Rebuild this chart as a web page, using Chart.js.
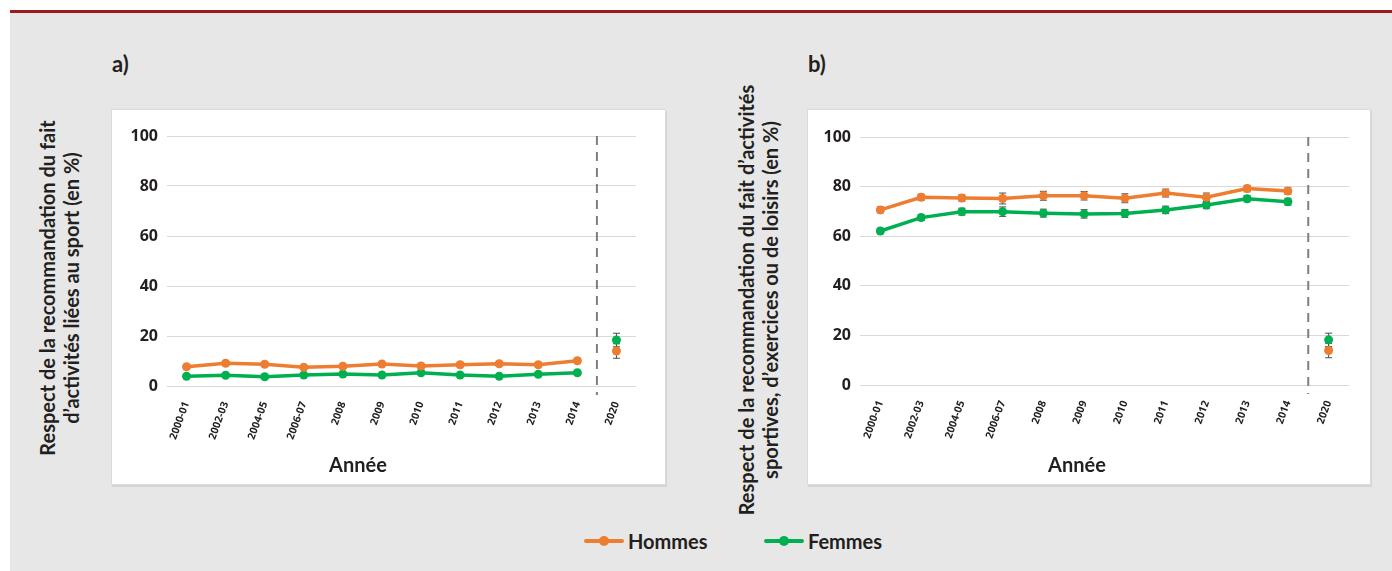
<!DOCTYPE html>
<html><head><meta charset="utf-8">
<script src="https://cdn.jsdelivr.net/npm/chart.js@4/dist/chart.umd.min.js"></script>
<style>
html,body{margin:0;padding:0}
body{width:1392px;height:571px;position:relative;overflow:hidden;background:#fff;font-family:Lato,"Noto Sans",sans-serif;color:#231f20}
#red{position:absolute;left:10px;top:10px;width:1382px;height:3px;background:#9e1b1b}
#bg{position:absolute;left:10px;top:13px;width:1382px;height:558px;background:#e6e7e6}
.panel{position:absolute;background:#fff;box-shadow:0 0 0 1px #d9dad9,1px 2px 0 1px #d4d5d4}
.panel canvas{position:absolute;left:0;top:0}
.tag{position:absolute;font-weight:bold;font-size:22px;line-height:24px}
.ytitle{position:absolute;transform:translate(-50%,-50%) rotate(-90deg);white-space:nowrap;text-align:center;font-weight:bold;font-size:20px;line-height:24px}
.xtitle{position:absolute;transform:translate(-50%,-50%);white-space:nowrap;font-weight:bold;font-size:20px;line-height:24px}
.leg{position:absolute;display:flex;align-items:center;height:24px;font-weight:bold;font-size:20px}
.sym{position:relative;width:40px;height:24px;margin-right:4px}
.sym .ln{position:absolute;left:0;top:10px;width:40px;height:4px;border-radius:2px}
.sym .dt{position:absolute;left:15px;top:7px;width:10px;height:10px;border-radius:50%}
</style></head>
<body>
<div id="red"></div><div id="bg"></div>
<div class="tag" style="left:112px;top:52px">a)</div>
<div class="tag" style="left:808px;top:52px">b)</div>
<div class="ytitle" style="left:59px;top:288px">Respect de la recommandation du fait<br>d’activités liées au sport (en %)</div>
<div class="ytitle" style="left:758px;top:300px">Respect de la recommandation du fait d’activités<br>sportives, d’exercices ou de loisirs (en %)</div>
<div class="panel" style="left:112px;top:110px;width:553px;height:374px"><canvas id="ca" width="553" height="374"></canvas></div>
<div class="panel" style="left:808px;top:110px;width:562px;height:374px"><canvas id="cb" width="562" height="374"></canvas></div>
<div class="xtitle" style="left:358px;top:464px">Année</div>
<div class="xtitle" style="left:1077px;top:464px">Année</div>
<div class="leg" style="left:584px;top:529px"><div class="sym"><div class="ln" style="background:#ED7D31"></div><div class="dt" style="background:#ED7D31"></div></div>Hommes</div>
<div class="leg" style="left:764px;top:529px"><div class="sym"><div class="ln" style="background:#00B050"></div><div class="dt" style="background:#00B050"></div></div>Femmes</div>
<script>
const categories = ['2000-01','2002-03','2004-05','2006-07','2008','2009','2010','2011','2012','2013','2014','2020'];
const yTicks = [0,20,40,60,80,100];

// a) activités liées au sport
const hommesSport    = [7.7, 9.1, 8.7, 7.5, 7.9, 8.8, 8.0, 8.5, 8.9, 8.5, 10.1, 14.0];
const femmesSport    = [3.9, 4.3, 3.7, 4.4, 4.8, 4.4, 5.3, 4.4, 3.9, 4.7, 5.3, 18.4];
const errHommesSport = [0.8, 0.8, 0.8, 0.7, 0.8, 0.8, 0.8, 0.8, 0.8, 0.8, 0.9, 2.9];
const errFemmesSport = [0.5, 0.5, 0.5, 0.5, 0.5, 0.5, 0.6, 0.5, 0.5, 0.5, 0.6, 2.7];

// b) activités sportives, d'exercices ou de loisirs
const hommesLoisirs    = [70.6, 75.7, 75.4, 75.2, 76.3, 76.3, 75.3, 77.4, 75.7, 79.2, 78.2, 13.9];
const femmesLoisirs    = [62.1, 67.5, 69.9, 69.9, 69.3, 69.0, 69.2, 70.6, 72.6, 75.1, 73.9, 18.2];
const errHommesLoisirs = [1.2, 1.2, 1.3, 2.2, 1.8, 1.7, 1.8, 1.6, 1.7, 1.3, 1.3, 2.9];
const errFemmesLoisirs = [1.1, 1.2, 1.4, 1.9, 1.6, 1.7, 1.6, 1.5, 1.5, 1.2, 1.4, 2.7];

const ORANGE = '#ED7D31', GREEN = '#00B050', TEXT = '#231f20';
Chart.defaults.font.family = '"Open Sans", Lato, sans-serif';

const errorBars = {
  id: 'errorBars',
  beforeDatasetsDraw(chart) {
    const ctx = chart.ctx, ys = chart.scales.y;
    ctx.save();
    ctx.strokeStyle = '#4d4d4d';
    ctx.lineWidth = 1;
    chart.data.datasets.forEach((ds, di) => {
      const meta = chart.getDatasetMeta(di);
      ds.data.forEach((v, i) => {
        const e = ds.errors && ds.errors[i];
        if (v == null || e == null) return;
        const x = meta.data[i].x;
        const y1 = ys.getPixelForValue(v - e), y2 = ys.getPixelForValue(v + e);
        ctx.beginPath();
        ctx.moveTo(x, y1); ctx.lineTo(x, y2);
        ctx.moveTo(x - 3.5, y1); ctx.lineTo(x + 3.5, y1);
        ctx.moveTo(x - 3.5, y2); ctx.lineTo(x + 3.5, y2);
        ctx.stroke();
      });
    });
    ctx.restore();
  }
};

const divider = {
  id: 'divider',
  beforeDatasetsDraw(chart) {
    const ctx = chart.ctx, xs = chart.scales.x, a = chart.chartArea;
    const px = (xs.getPixelForValue(10) + xs.getPixelForValue(11)) / 2;
    ctx.save();
    ctx.strokeStyle = '#7f7f7f';
    ctx.lineWidth = 2;
    ctx.setLineDash([9, 7]);
    ctx.beginPath();
    ctx.moveTo(px, a.top); ctx.lineTo(px, a.bottom + 9);
    ctx.stroke();
    ctx.restore();
  }
};

function series(label, data, errors, color) {
  return {
    label, data, errors,
    borderColor: color, backgroundColor: color,
    borderWidth: 3.5, pointRadius: 4.5, pointHoverRadius: 4.5, pointBorderWidth: 0,
    tension: 0,
    segment: { borderColor: c => c.p1DataIndex === 11 ? 'rgba(0,0,0,0)' : undefined }
  };
}

function makeChart(id, hom, fem, eh, ef, L) {
  return new Chart(document.getElementById(id), {
    type: 'line',
    data: { labels: categories, datasets: [series('Hommes', hom, eh, ORANGE), series('Femmes', fem, ef, GREEN)] },
    options: {
      responsive: false, animation: false, events: [],
      layout: { padding: { left: 0, right: L.right, top: L.top, bottom: 0 } },
      plugins: { legend: { display: false }, tooltip: { enabled: false } },
      scales: {
        x: {
          type: 'category', offset: true,
          grid: { display: false }, border: { display: false },
          ticks: { autoSkip: false, minRotation: 70, maxRotation: 70, padding: 6, color: TEXT, font: { size: 10.5, weight: 'bold' } },
          afterFit(s) { s.height = L.xh; }
        },
        y: {
          min: 0, max: 100,
          afterBuildTicks(s) { s.ticks = yTicks.map(v => ({ value: v })); },
          ticks: { padding: 9, color: TEXT, font: { size: 16, weight: 'bold' } },
          grid: { color: '#d9d9d9', lineWidth: 1, drawTicks: false },
          border: { display: false },
          afterFit(s) { s.width = L.yw; }
        }
      }
    },
    plugins: [divider, errorBars]
  });
}

makeChart('ca', hommesSport, femmesSport, errHommesSport, errFemmesSport, { right: 29, top: 26, xh: 98, yw: 55 });
makeChart('cb', hommesLoisirs, femmesLoisirs, errHommesLoisirs, errFemmesLoisirs, { right: 21, top: 27, xh: 99, yw: 52 });
</script>
</body></html>
